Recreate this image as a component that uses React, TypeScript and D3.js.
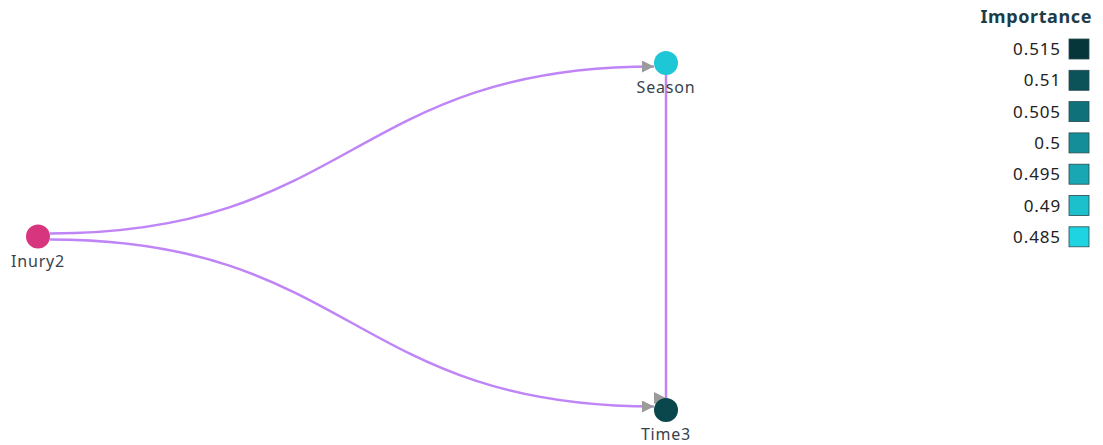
import React, { useEffect, useRef } from 'react'
import * as d3 from 'd3'

// nodes, their layout slots (column, row) and importance
const nodeNames = ['Inury2', 'Season', 'Time3']
const nodeCols = [0, 1, 1]
const nodeRows = [1, 0, 2]
const nodeImportance: (number | null)[] = [null, 0.488, 0.512]

// directed links
const linkSources = ['Inury2', 'Inury2', 'Season']
const linkTargets = ['Season', 'Time3', 'Time3']

// legend
const legendValues = [0.515, 0.51, 0.505, 0.5, 0.495, 0.49, 0.485]
const legendColors = ['#07363a', '#0b5359', '#0f727a', '#148f99', '#19a8b3', '#1cbfcc', '#1fd4e2']

const W = 1103
const H = 445

const App: React.FC = () => {
  const svgRef = useRef<SVGSVGElement>(null)

  useEffect(() => {
    if (!svgRef.current) return
    const svg = d3.select(svgRef.current)
    svg.selectAll('*').remove()

    const r = 12
    const xScale = d3.scaleLinear().domain([0, 1]).range([38, 666])
    const yScale = d3.scaleLinear().domain([0, 2]).range([63, 410])
    const color = d3.scaleLinear<string>().domain(legendValues).range(legendColors).clamp(true)

    const nodes = nodeNames.map((name, i) => ({
      name,
      x: xScale(nodeCols[i]),
      y: yScale(nodeRows[i]),
      fill: nodeImportance[i] === null ? '#d8357f' : color(nodeImportance[i] as number),
    }))
    const byName = new Map(nodes.map((n) => [n.name, n]))

    // arrow markers: one following the path, one fixed pointing right
    const defs = svg.append('defs')
    ;[['arrow', 'auto'], ['arrow0', '0']].forEach(([id, orient]) => {
      defs
        .append('marker')
        .attr('id', id)
        .attr('viewBox', '0 0 10 10')
        .attr('refX', 10)
        .attr('refY', 5)
        .attr('markerUnits', 'userSpaceOnUse')
        .attr('markerWidth', 14)
        .attr('markerHeight', 12)
        .attr('orient', orient)
        .append('path')
        .attr('d', 'M0,0L10,5L0,10Z')
        .attr('fill', '#9b9b9b')
    })

    const linkH = d3.linkHorizontal<any, [number, number]>()
      .source((d) => d[0])
      .target((d) => d[1])

    const g = svg.append('g')

    linkSources.forEach((s, i) => {
      const a = byName.get(s)!
      const b = byName.get(linkTargets[i])!
      let d: string
      let marker = 'url(#arrow)'
      if (a.x === b.x) {
        d = `M${a.x},${a.y}L${b.x},${b.y - r}`
        marker = 'url(#arrow0)'
      } else {
        const dir = Math.sign(b.y - a.y)
        d = linkH([[a.x + r, a.y + dir * 3], [b.x - r, b.y - dir * 3.5]]) as string
      }
      g.append('path')
        .attr('d', d)
        .attr('fill', 'none')
        .attr('stroke', '#bf85f7')
        .attr('stroke-width', 2.5)
        .attr('marker-end', marker)
    })

    const ng = g.selectAll('g.node').data(nodes).enter().append('g')
    ng.append('circle')
      .attr('cx', (d) => d.x)
      .attr('cy', (d) => d.y)
      .attr('r', r)
      .attr('fill', (d) => d.fill)
    ng.append('text')
      .attr('x', (d) => d.x)
      .attr('y', (d) => d.y + r + 18)
      .attr('text-anchor', 'middle')
      .attr('font-size', 16)
      .attr('letter-spacing', 0.8)
      .attr('fill', '#36434c')
      .text((d) => d.name)

    // legend
    const lg = svg.append('g')
    lg.append('text')
      .attr('x', 1092)
      .attr('y', 23)
      .attr('text-anchor', 'end')
      .attr('font-size', 18)
      .attr('letter-spacing', 0.6)
      .attr('font-weight', 'bold')
      .attr('fill', '#1c3c48')
      .text('Importance')
    const ly = d3.scaleBand<number>().domain(legendValues).range([38, 38 + 31.3 * legendValues.length])
    const items = lg.selectAll('g.item').data(legendValues).enter().append('g')
    items
      .append('rect')
      .attr('x', 1069)
      .attr('y', (d) => ly(d)! + 1)
      .attr('width', 20)
      .attr('height', 20)
      .attr('fill', (d) => color(d))
      .attr('stroke', '#2a4a50')
      .attr('stroke-width', 0.8)
    items
      .append('text')
      .attr('x', 1061)
      .attr('y', (d) => ly(d)! + 17)
      .attr('text-anchor', 'end')
      .attr('font-size', 17)
      .attr('letter-spacing', 0.9)
      .attr('fill', '#222')
      .text((d) => String(d))
  }, [])

  return (
    <svg
      ref={svgRef}
      width={W}
      height={H}
      style={{ position: 'absolute', left: 0, top: 0, fontFamily: '"Noto Sans", sans-serif', background: '#fff' }}
    />
  )
}

export default App
